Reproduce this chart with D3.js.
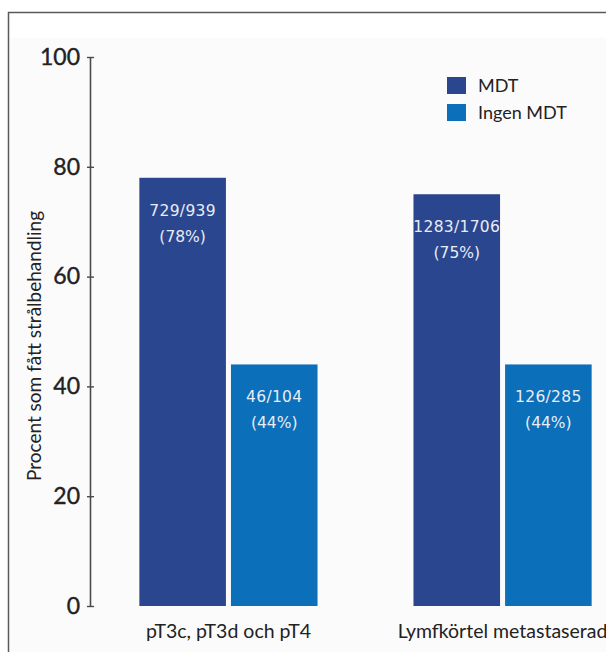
<!DOCTYPE html>
<html>
<head>
<meta charset="utf-8">
<script src="https://cdn.jsdelivr.net/npm/d3@7"></script>
<style>
  body { margin: 0; background: #ffffff; }
  #canvas { width: 606px; height: 652px; overflow: hidden; }
</style>
</head>
<body>
<div id="canvas"></div>
<script>
// Datos de la grafica
const categorias = ["pT3c, pT3d och pT4", "Lymfkörtel metastaserad"];
const grupos = ["MDT", "Ingen MDT"];
const valoresMDT = [78, 75];
const valoresIngen = [44, 44];
const fraccionesMDT = ["729/939", "1283/1706"];
const fraccionesIngen = ["46/104", "126/285"];
const ticksY = [0, 20, 40, 60, 80, 100];

const colores = {"MDT": "#29468f", "Ingen MDT": "#0b6fba"};

// Tabla para dibujar las barras
const data = [];
categorias.forEach((c, i) => {
    data.push({cat: c, grupo: "MDT", valor: valoresMDT[i], frac: fraccionesMDT[i]});
    data.push({cat: c, grupo: "Ingen MDT", valor: valoresIngen[i], frac: fraccionesIngen[i]});
});

const canvas = d3.select("#canvas");
const width = 606;
const height = 652;

const svg = canvas.append("svg")
    .attr("width", width)
    .attr("height", height);

// Marco del grafico
svg.append("rect")
    .attr("x", 8.5).attr("y", 12.5)
    .attr("width", 700).attr("height", 700)
    .attr("fill", "#ffffff")
    .attr("stroke", "#5a5a5a")
    .attr("stroke-width", 1.5);

svg.append("rect")
    .attr("x", 10).attr("y", 38)
    .attr("width", 700).attr("height", 700)
    .attr("fill", "#fbfbfc");

// Escalas
const y = d3.scaleLinear()
    .domain([0, 100])
    .range([606, 57]);

const x0 = d3.scaleBand()
    .domain(categorias)
    .range([90, 641])
    .paddingInner(0.35)
    .paddingOuter(0.18);

const x1 = d3.scaleBand()
    .domain(grupos)
    .range([0, x0.bandwidth()])
    .paddingInner(0.055);

// Barras
const barras = svg.append("g").selectAll("g").data(data).enter().append("g")
    .attr("transform", d => `translate(${x0(d.cat) + x1(d.grupo)}, 0)`);

barras.append("rect")
    .attr("x", 0)
    .attr("y", d => y(d.valor))
    .attr("width", x1.bandwidth())
    .attr("height", d => y(0) - y(d.valor))
    .attr("fill", d => colores[d.grupo]);

barras.append("text")
    .attr("x", x1.bandwidth() / 2)
    .attr("y", d => y(d.valor) + 38)
    .attr("text-anchor", "middle")
    .style("font-family", "DejaVu Sans")
    .style("font-size", "15.5px")
    .style("letter-spacing", "0.3px")
    .attr("fill", "#e9ecf4")
    .text(d => d.frac);

barras.append("text")
    .attr("x", x1.bandwidth() / 2)
    .attr("y", d => y(d.valor) + 64)
    .attr("text-anchor", "middle")
    .style("font-family", "DejaVu Sans")
    .style("font-size", "15.5px")
    .attr("fill", "#e9ecf4")
    .text(d => `(${d.valor}%)`);

// Eje y
const ejeY = svg.append("g")
    .attr("transform", "translate(90, 0)")
    .call(d3.axisLeft(y).tickValues(ticksY).tickSize(0).tickPadding(10));

ejeY.select(".domain")
    .attr("stroke", "#4a4a4a")
    .attr("stroke-width", 1.6);

ejeY.selectAll(".tick line")
    .attr("x1", -3).attr("x2", 4)
    .attr("stroke", "#4a4a4a")
    .attr("stroke-width", 1.4);

ejeY.selectAll(".tick text")
    .style("font-family", "Lato")
    .style("font-size", "23px")
    .attr("fill", "#222")
    .attr("stroke", "#222")
    .attr("stroke-width", 0.4);

// Etiqueta del eje y
svg.append("text")
    .attr("transform", "rotate(-90)")
    .attr("x", -346)
    .attr("y", 41)
    .attr("text-anchor", "middle")
    .style("font-family", "Lato")
    .style("font-size", "19px")
    .attr("fill", "#222")
    .text("Procent som fått strålbehandling");

// Etiquetas de categorias
svg.append("g").selectAll("text").data(categorias).enter().append("text")
    .attr("x", d => x0(d) + x0.bandwidth() / 2)
    .attr("y", 638)
    .attr("text-anchor", "middle")
    .style("font-family", "Lato")
    .style("font-size", "19.5px")
    .attr("fill", "#222")
    .text(d => d);

// Leyenda
const leyenda = svg.append("g").selectAll("g").data(grupos).enter().append("g")
    .attr("transform", (d, i) => `translate(447, ${77 + i * 27})`);

leyenda.append("rect")
    .attr("width", 19)
    .attr("height", 17)
    .attr("fill", d => colores[d]);

leyenda.append("text")
    .attr("x", 31)
    .attr("y", 15)
    .style("font-family", "Lato")
    .style("font-size", "18px")
    .attr("fill", "#222")
    .text(d => d);
</script>
</body>
</html>
